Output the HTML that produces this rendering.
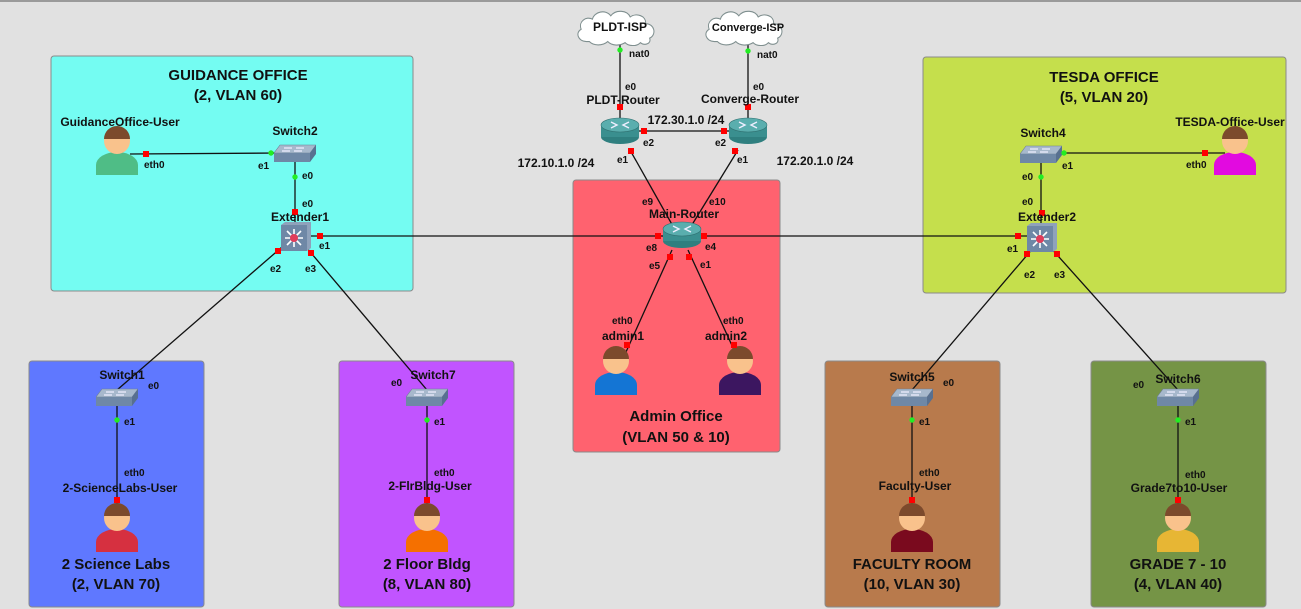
<!DOCTYPE html>
<html><head><meta charset="utf-8"><style>
body{margin:0;width:1301px;height:609px;overflow:hidden;background:#e1e1e1}
svg{display:block}
text{font-family:"Liberation Sans",sans-serif;font-weight:bold;fill:#111}
.t{font-size:15px}
.n{font-size:12px}
.p{font-size:10px}
</style></head><body>
<svg width="1301" height="609" viewBox="0 0 1301 609">
<defs>
<symbol id="router" viewBox="0 0 40 28"><ellipse cx="20" cy="20" rx="19" ry="7" fill="#2f7f7f"/><rect x="1" y="8" width="38" height="12" fill="#3a8f8f"/><ellipse cx="20" cy="8" rx="19" ry="7" fill="#5aaeae" stroke="#2f7070" stroke-width=".6"/><path d="M11 5l6 3-6 3M29 5l-6 3 6 3" stroke="#eef" stroke-width="1.4" fill="none"/></symbol>
<symbol id="switch" viewBox="0 0 42 20"><path d="M6 2h36l-6 8H0z" fill="#a7b8cc" stroke="#6d7f96" stroke-width=".6"/><path d="M0 10h36v9H0z" fill="#6f88a6"/><path d="M36 10l6-8v9l-6 8z" fill="#587090"/><path d="M10 5h8M22 5h8M8 8h8M20 8h8" stroke="#eef" stroke-width="1.2"/></symbol>
<symbol id="ext" viewBox="0 0 30 30"><rect x="0" y="3" width="26" height="26" fill="#6f88a6"/><path d="M0 3l4-3h26l-4 3zM26 3l4-3v26l-4 3z" fill="#8fa2bb"/><g stroke="#fff" stroke-width="1.6"><path d="M13 7v18M4 16h18M6 9l14 14M20 9L6 23"/></g><circle cx="13" cy="16" r="4" fill="#e23c5a"/></symbol>
<symbol id="cloud" viewBox="0 0 90 34" preserveAspectRatio="none"><path d="M12 30c-8 0-11-8-5-11-3-7 5-12 11-9 2-7 13-9 18-3 5-6 16-5 19 1 6-4 16-1 15 6 9 0 11 10 4 13 2 5-5 7-9 4-4 4-12 3-15 0-5 3-13 3-17-1-5 4-14 4-18 0z" fill="#fff" stroke="#7f8f8f" stroke-width="1"/></symbol>
</defs>
<rect x="0" y="0" width="1301" height="2" fill="#9a9a9a"/>
<rect x="51" y="56" width="362" height="235" rx="3" fill="#74fcf2" stroke="#8a8a8a"/>
<rect x="923" y="57" width="363" height="236" rx="3" fill="#c5df4c" stroke="#8a8a8a"/>
<rect x="573" y="180" width="207" height="272" rx="3" fill="#ff626f" stroke="#8a8a8a"/>
<rect x="29" y="361" width="175" height="246" rx="3" fill="#5f78ff" stroke="#8a8a8a"/>
<rect x="339" y="361" width="175" height="246" rx="3" fill="#c154ff" stroke="#8a8a8a"/>
<rect x="825" y="361" width="175" height="246" rx="3" fill="#b87a4c" stroke="#8a8a8a"/>
<rect x="1091" y="361" width="175" height="246" rx="3" fill="#759446" stroke="#8a8a8a"/>
<g class="t" text-anchor="middle">
<text x="238" y="80">GUIDANCE OFFICE</text><text x="238" y="100">(2, VLAN 60)</text>
<text x="1104" y="82">TESDA OFFICE</text><text x="1104" y="102">(5, VLAN 20)</text>
<text x="676" y="421">Admin Office</text><text x="676" y="442">(VLAN 50 &amp; 10)</text>
<text x="116" y="569">2 Science Labs</text><text x="116" y="589">(2, VLAN 70)</text>
<text x="427" y="569">2 Floor Bldg</text><text x="427" y="589">(8, VLAN 80)</text>
<text x="912" y="569">FACULTY ROOM</text><text x="912" y="589">(10, VLAN 30)</text>
<text x="1178" y="569">GRADE 7 - 10</text><text x="1178" y="589">(4, VLAN 40)</text>
</g>
<g stroke="#111" stroke-width="1.3">
<line x1="620" y1="40" x2="620" y2="122"/><line x1="748" y1="40" x2="748" y2="122"/>
<line x1="636" y1="131" x2="730" y2="131"/>
<line x1="630" y1="150" x2="674" y2="228"/><line x1="738" y1="150" x2="690" y2="228"/>
<line x1="310" y1="236" x2="665" y2="236"/><line x1="700" y1="236" x2="1035" y2="236"/>
<line x1="282" y1="247" x2="117" y2="390"/><line x1="306" y1="247" x2="427" y2="390"/>
<line x1="1034" y1="247" x2="912" y2="390"/><line x1="1050" y1="247" x2="1178" y2="390"/>
<line x1="672" y1="250" x2="626" y2="352"/><line x1="688" y1="250" x2="735" y2="352"/>
<line x1="117" y1="400" x2="117" y2="505"/><line x1="427" y1="400" x2="427" y2="505"/>
<line x1="912" y1="400" x2="912" y2="505"/><line x1="1178" y1="400" x2="1178" y2="505"/>
<line x1="130" y1="154" x2="280" y2="153"/><line x1="1055" y1="153" x2="1225" y2="153"/>
<line x1="295" y1="160" x2="295" y2="228"/><line x1="1041" y1="160" x2="1041" y2="228"/>
</g>
<use href="#cloud" x="574" y="8" width="92" height="38"/><use href="#cloud" x="702" y="8" width="92" height="38"/>
<use href="#router" x="600" y="117" width="40" height="28"/><use href="#router" x="728" y="117" width="40" height="28"/>
<use href="#router" x="661" y="221" width="42" height="28"/>
<use href="#switch" x="274" y="143" width="42" height="20"/><use href="#switch" x="1020" y="144" width="42" height="20"/>
<use href="#switch" x="96" y="387" width="42" height="20"/><use href="#switch" x="406" y="387" width="42" height="20"/>
<use href="#switch" x="891" y="387" width="42" height="20"/><use href="#switch" x="1157" y="387" width="42" height="20"/>
<use href="#ext" x="281" y="222" width="30" height="30"/><use href="#ext" x="1027" y="223" width="30" height="30"/>
<g>
<path d="M96 175v-10a21 13 0 0 1 42 0v10z" fill="#4fbd86"/><circle cx="117" cy="141" r="13" fill="#f9c28c"/><path d="M104 139a13 13 0 0 1 26 0z" fill="#7c4a2c"/>
<path d="M1214 175v-10a21 13 0 0 1 42 0v10z" fill="#e20ae0"/><circle cx="1235" cy="141" r="13" fill="#f9c28c"/><path d="M1222 139a13 13 0 0 1 26 0z" fill="#7c4a2c"/>
<path d="M595 395v-10a21 13 0 0 1 42 0v10z" fill="#1475d4"/><circle cx="616" cy="361" r="13" fill="#f9c28c"/><path d="M603 359a13 13 0 0 1 26 0z" fill="#7c4a2c"/>
<path d="M719 395v-10a21 13 0 0 1 42 0v10z" fill="#3c1660"/><circle cx="740" cy="361" r="13" fill="#f9c28c"/><path d="M727 359a13 13 0 0 1 26 0z" fill="#7c4a2c"/>
<path d="M96 552v-10a21 13 0 0 1 42 0v10z" fill="#d63040"/><circle cx="117" cy="518" r="13" fill="#f9c28c"/><path d="M104 516a13 13 0 0 1 26 0z" fill="#7c4a2c"/>
<path d="M406 552v-10a21 13 0 0 1 42 0v10z" fill="#f57000"/><circle cx="427" cy="518" r="13" fill="#f9c28c"/><path d="M414 516a13 13 0 0 1 26 0z" fill="#7c4a2c"/>
<path d="M891 552v-10a21 13 0 0 1 42 0v10z" fill="#7a0a1e"/><circle cx="912" cy="518" r="13" fill="#f9c28c"/><path d="M899 516a13 13 0 0 1 26 0z" fill="#7c4a2c"/>
<path d="M1157 552v-10a21 13 0 0 1 42 0v10z" fill="#e7b634"/><circle cx="1178" cy="518" r="13" fill="#f9c28c"/><path d="M1165 516a13 13 0 0 1 26 0z" fill="#7c4a2c"/>
</g>
<g fill="#f00">
<rect x="617" y="104" width="6" height="6"/><rect x="745" y="104" width="6" height="6"/>
<rect x="641" y="128" width="6" height="6"/><rect x="721" y="128" width="6" height="6"/>
<rect x="628" y="148" width="6" height="6"/><rect x="732" y="148" width="6" height="6"/>
<rect x="655" y="233" width="6" height="6"/><rect x="701" y="233" width="6" height="6"/>
<rect x="667" y="254" width="6" height="6"/><rect x="686" y="254" width="6" height="6"/>
<rect x="624" y="342" width="6" height="6"/><rect x="731" y="342" width="6" height="6"/>
<rect x="143" y="151" width="6" height="6"/><rect x="1202" y="150" width="6" height="6"/>
<rect x="292" y="209" width="6" height="6"/><rect x="1039" y="210" width="6" height="6"/>
<rect x="317" y="233" width="6" height="6"/><rect x="1015" y="233" width="6" height="6"/>
<rect x="275" y="248" width="6" height="6"/><rect x="308" y="250" width="6" height="6"/>
<rect x="1024" y="251" width="6" height="6"/><rect x="1054" y="251" width="6" height="6"/>
<rect x="114" y="497" width="6" height="6"/><rect x="424" y="497" width="6" height="6"/>
<rect x="909" y="497" width="6" height="6"/><rect x="1175" y="497" width="6" height="6"/>
</g>
<g fill="#22ee22">
<circle cx="620" cy="50" r="2.7"/><circle cx="748" cy="51" r="2.7"/>
<circle cx="271" cy="153" r="2.7"/><circle cx="295" cy="177" r="2.7"/>
<circle cx="1064" cy="153" r="2.7"/><circle cx="1041" cy="177" r="2.7"/>
<circle cx="117" cy="420" r="2.7"/><circle cx="427" cy="420" r="2.7"/>
<circle cx="912" cy="420" r="2.7"/><circle cx="1178" cy="420" r="2.7"/>
</g>
<g class="n" text-anchor="middle">
<text x="620" y="31">PLDT-ISP</text><text x="748" y="31" font-size="11">Converge-ISP</text>
<text x="623" y="104">PLDT-Router</text><text x="750" y="103">Converge-Router</text>
<text x="684" y="218">Main-Router</text>
<text x="120" y="126">GuidanceOffice-User</text><text x="295" y="135">Switch2</text><text x="300" y="221">Extender1</text>
<text x="1043" y="137">Switch4</text><text x="1047" y="221">Extender2</text><text x="1230" y="126">TESDA-Office-User</text>
<text x="623" y="340">admin1</text><text x="726" y="340">admin2</text>
<text x="122" y="379">Switch1</text><text x="433" y="379">Switch7</text><text x="912" y="381">Switch5</text><text x="1178" y="383">Switch6</text>
<text x="120" y="492">2-ScienceLabs-User</text><text x="430" y="490">2-FlrBldg-User</text><text x="915" y="490">Faculty-User</text><text x="1179" y="492">Grade7to10-User</text>
<text x="686" y="124">172.30.1.0 /24</text><text x="556" y="167">172.10.1.0 /24</text><text x="815" y="165">172.20.1.0 /24</text>
</g>
<g class="p">
<text x="629" y="57">nat0</text><text x="757" y="58">nat0</text>
<text x="625" y="90">e0</text><text x="753" y="90">e0</text>
<text x="643" y="146">e2</text><text x="715" y="146">e2</text><text x="617" y="163">e1</text><text x="737" y="163">e1</text>
<text x="642" y="205">e9</text><text x="709" y="205">e10</text><text x="646" y="251">e8</text><text x="705" y="250">e4</text>
<text x="649" y="269">e5</text><text x="700" y="268">e1</text>
<text x="612" y="324">eth0</text><text x="723" y="324">eth0</text>
<text x="144" y="168">eth0</text><text x="258" y="169">e1</text><text x="302" y="179">e0</text><text x="302" y="207">e0</text>
<text x="319" y="249">e1</text><text x="270" y="272">e2</text><text x="305" y="272">e3</text>
<text x="1062" y="169">e1</text><text x="1186" y="168">eth0</text><text x="1022" y="180">e0</text><text x="1022" y="205">e0</text>
<text x="1007" y="252">e1</text><text x="1024" y="278">e2</text><text x="1054" y="278">e3</text>
<text x="148" y="389">e0</text><text x="391" y="386">e0</text><text x="943" y="386">e0</text><text x="1133" y="388">e0</text>
<text x="124" y="425">e1</text><text x="434" y="425">e1</text><text x="919" y="425">e1</text><text x="1185" y="425">e1</text>
<text x="124" y="476">eth0</text><text x="434" y="476">eth0</text><text x="919" y="476">eth0</text><text x="1185" y="478">eth0</text>
</g>
</svg>
</body></html>
